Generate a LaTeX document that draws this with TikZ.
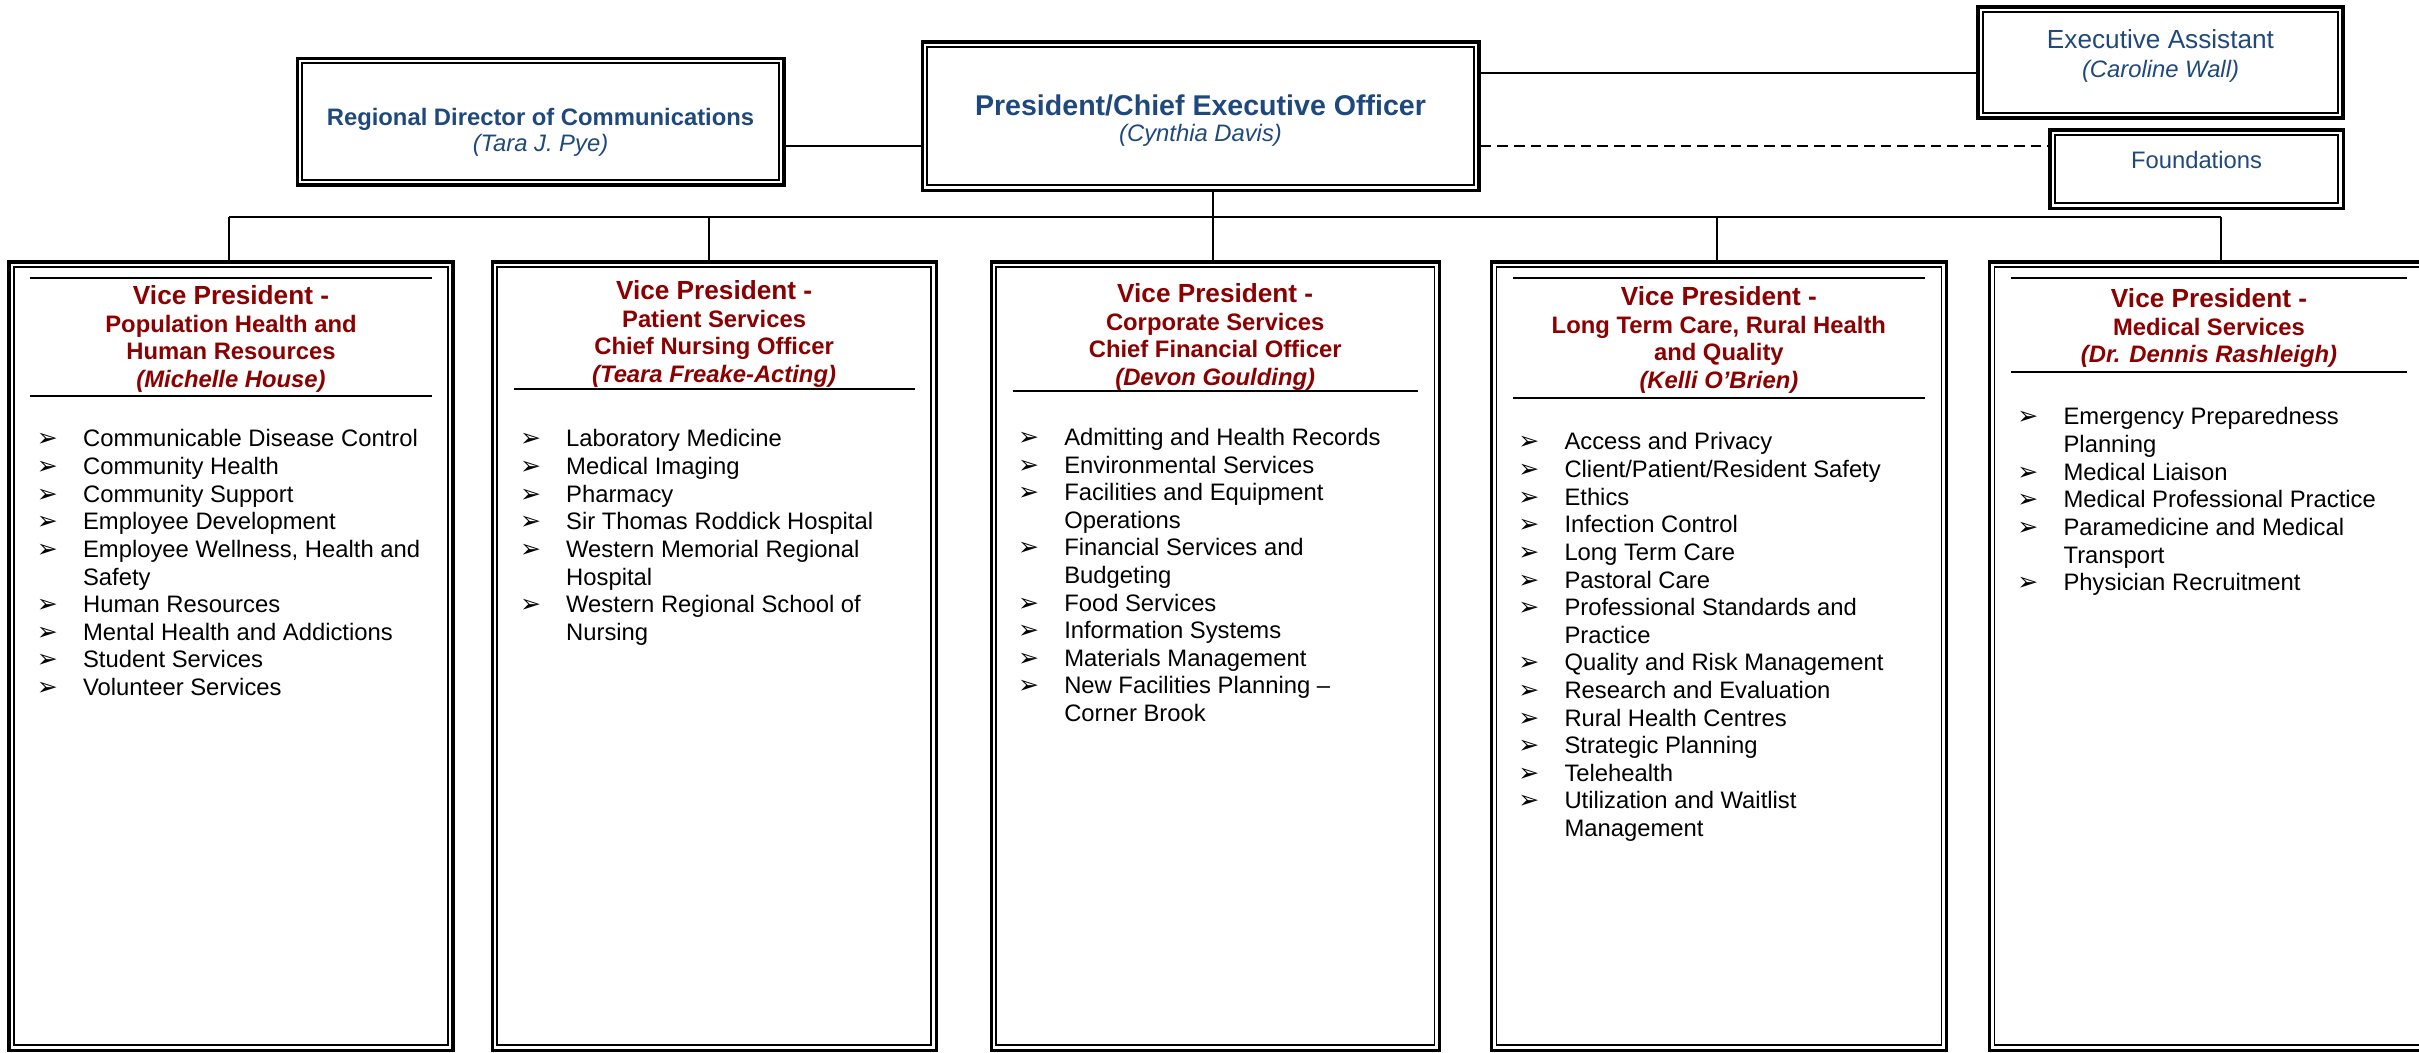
\documentclass[tikz,border=0pt]{standalone}
\usepackage{fontspec}
\setmainfont{Liberation Sans}
\newfontfamily\dingfont{DejaVu Sans}
\usepackage{tikz}
\usetikzlibrary{positioning, calc}
\definecolor{orgblue}{RGB}{31,73,125}
\definecolor{vpred}{RGB}{139,0,0}
\newcommand{\stack}[1]{\begin{tabular}[t]{@{}c@{}}#1\end{tabular}}
\newcommand{\duties}[1]{\begin{tabular}[t]{@{}p{19.4pt}@{}l@{}}#1\end{tabular}}
\newcommand{\vpbullet}{{\dingfont\fontsize{10.5}{8}\selectfont ➢}}

\begin{document}
\begin{tikzpicture}
[x=0.42pt, y=-0.42pt,
 box/.style={rectangle, draw, line width=1.3pt, inner sep=0pt,
   path picture={\draw[line width=0.6pt]
     ([shift={(2.1pt,-2.1pt)}]path picture bounding box.north west) rectangle
     ([shift={(-2.1pt,2.1pt)}]path picture bounding box.south east);}},
 vpbox/.style={box, minimum height=331pt},
 link/.style={line width=0.6pt},
 rule/.style={line width=0.8pt},
 head/.style={anchor=base, inner sep=0pt, text=orgblue},
 vphead/.style={anchor=base, inner sep=0pt, text=vpred,
   font=\fontsize{10}{11.6}\selectfont\bfseries},
 duty/.style={anchor=base west, inner sep=0pt,
   font=\fontsize{10}{11.6}\selectfont}]

\useasboundingbox (0,0) rectangle (2419,1052);

% top row
\node[box, minimum width=204.5pt, minimum height=53.3pt] (rdc) at (540.5,121.5) {};
\node[box, minimum width=233.9pt, minimum height=62.2pt] (ceo) at (1200.5,116) {};
\node[box, minimum width=153.3pt, minimum height=46.6pt] (ea) at (2160.5,62.5) {};
\node[box, minimum width=123.1pt, minimum height=32.8pt] (fnd) at (2196.5,169) {};

\node[head, font=\fontsize{10}{11.3}\selectfont] (rdc-t) at (540.5,125)
  {\stack{\textbf{Regional Director of Communications}\\ \textit{(Tara J. Pye)}}};
\node[head, font=\fontsize{10}{11.3}\selectfont] (ceo-t) at (1200.5,115)
  {\stack{{\fontsize{12}{11.3}\selectfont\bfseries President/Chief Executive Officer}\\ \textit{(Cynthia Davis)}}};
\node[head, font=\fontsize{10}{12.2}\selectfont] (ea-t) at (2160.5,48)
  {\stack{{\fontsize{11}{12.2}\selectfont Executive Assistant}\\ \textit{(Caroline Wall)}}};
\node[head, font=\fontsize{10}{12}\selectfont] (fnd-t) at (2196.5,168) {Foundations};

% vice presidents
\node[vpbox, minimum width=186.5pt] (vp1) at (231,656) {};
\node[vpbox, minimum width=186.5pt, right=15.1pt of vp1] (vp2) {};
\node[vpbox, minimum width=188.2pt, right=21.8pt of vp2] (vp3) {};
\node[vpbox, minimum width=191.1pt, right=20.6pt of vp3] (vp4) {};
\node[vpbox, minimum width=184.4pt, right=16.8pt of vp4] (vp5) {};

\node[vphead] (vp1-t) at ($(vp1.north)+(0,44)$)
  {\stack{{\fontsize{11}{11.6}\selectfont Vice President -}\\ Population Health and\\ Human Resources\\ \textit{(Michelle House)}}};
\node[vphead] (vp2-t) at ($(vp2.north)+(0,39)$)
  {\stack{{\fontsize{11}{11.6}\selectfont Vice President -}\\ Patient Services\\ Chief Nursing Officer\\ \textit{(Teara Freake-Acting)}}};
\node[vphead] (vp3-t) at ($(vp3.north)+(0,42)$)
  {\stack{{\fontsize{11}{11.6}\selectfont Vice President -}\\ Corporate Services\\ Chief Financial Officer\\ \textit{(Devon Goulding)}}};
\node[vphead] (vp4-t) at ($(vp4.north)+(0,45)$)
  {\stack{{\fontsize{11}{11.6}\selectfont Vice President -}\\ Long Term Care, Rural Health\\ and Quality\\ \textit{(Kelli O’Brien)}}};
\node[vphead] (vp5-t) at ($(vp5.north)+(0,47)$)
  {\stack{{\fontsize{11}{11.6}\selectfont Vice President -}\\ Medical Services\\ \textit{(Dr. Dennis Rashleigh)}}};

% rules round the titles
\draw[rule] ($(vp1.north west)+(23,18)$) -- ($(vp1.north east)+(-23,18)$);
\draw[rule] ($(vp1.north west)+(23,136)$) -- ($(vp1.north east)+(-23,136)$);
\draw[rule] ($(vp2.north west)+(23,129)$) -- ($(vp2.north east)+(-23,129)$);
\draw[rule] ($(vp3.north west)+(23,131)$) -- ($(vp3.north east)+(-23,131)$);
\draw[rule] ($(vp4.north west)+(23,18)$) -- ($(vp4.north east)+(-23,18)$);
\draw[rule] ($(vp4.north west)+(23,138)$) -- ($(vp4.north east)+(-23,138)$);
\draw[rule] ($(vp5.north west)+(23,18)$) -- ($(vp5.north east)+(-23,18)$);
\draw[rule] ($(vp5.north west)+(23,112)$) -- ($(vp5.north east)+(-23,112)$);

% portfolios
\node[duty] (vp1-d) at ($(vp1.north west)+(29,186.5)$) {\duties{%
  \vpbullet & Communicable Disease Control\\
  \vpbullet & Community Health\\
  \vpbullet & Community Support\\
  \vpbullet & Employee Development\\
  \vpbullet & Employee Wellness, Health and\\
            & Safety\\
  \vpbullet & Human Resources\\
  \vpbullet & Mental Health and Addictions\\
  \vpbullet & Student Services\\
  \vpbullet & Volunteer Services}};
\node[duty] (vp2-d) at ($(vp2.north west)+(29,186.5)$) {\duties{%
  \vpbullet & Laboratory Medicine\\
  \vpbullet & Medical Imaging\\
  \vpbullet & Pharmacy\\
  \vpbullet & Sir Thomas Roddick Hospital\\
  \vpbullet & Western Memorial Regional\\
            & Hospital\\
  \vpbullet & Western Regional School of\\
            & Nursing}};
\node[duty] (vp3-d) at ($(vp3.north west)+(28,185)$) {\duties{%
  \vpbullet & Admitting and Health Records\\
  \vpbullet & Environmental Services\\
  \vpbullet & Facilities and Equipment\\
            & Operations\\
  \vpbullet & Financial Services and\\
            & Budgeting\\
  \vpbullet & Food Services\\
  \vpbullet & Information Systems\\
  \vpbullet & Materials Management\\
  \vpbullet & New Facilities Planning –\\
            & Corner Brook}};
\node[duty] (vp4-d) at ($(vp4.north west)+(28,189.5)$) {\duties{%
  \vpbullet & Access and Privacy\\
  \vpbullet & Client/Patient/Resident Safety\\
  \vpbullet & Ethics\\
  \vpbullet & Infection Control\\
  \vpbullet & Long Term Care\\
  \vpbullet & Pastoral Care\\
  \vpbullet & Professional Standards and\\
            & Practice\\
  \vpbullet & Quality and Risk Management\\
  \vpbullet & Research and Evaluation\\
  \vpbullet & Rural Health Centres\\
  \vpbullet & Strategic Planning\\
  \vpbullet & Telehealth\\
  \vpbullet & Utilization and Waitlist\\
            & Management}};
\node[duty] (vp5-d) at ($(vp5.north west)+(29,164.5)$) {\duties{%
  \vpbullet & Emergency Preparedness\\
            & Planning\\
  \vpbullet & Medical Liaison\\
  \vpbullet & Medical Professional Practice\\
  \vpbullet & Paramedicine and Medical\\
            & Transport\\
  \vpbullet & Physician Recruitment}};

% reporting lines
\coordinate (b1) at (229,217);
\coordinate (b2) at (709,217);
\coordinate (b3) at (1213,217);
\coordinate (b4) at (1717,217);
\coordinate (b5) at (2221,217);
\draw[link] (b1) -- (b5);
\draw[link] (ceo.south -| b3) -- (b3 |- vp3.north);
\foreach \k in {1,2,4,5}
  \draw[link] (b\k) -- (b\k |- vp\k.north);

\coordinate (side) at (850,146);
\coordinate (ea-in) at (1700,73);
\coordinate (fnd-in) at (1700,146);
\draw[link] (rdc.east |- side) -- (ceo.west |- side);
\draw[link] (ceo.east |- ea-in) -- (ea.west |- ea-in);
\draw[link, dash pattern=on 4.5pt off 2.5pt] (ceo.east |- fnd-in) -- (fnd.west |- fnd-in);

\end{tikzpicture}
\end{document}
